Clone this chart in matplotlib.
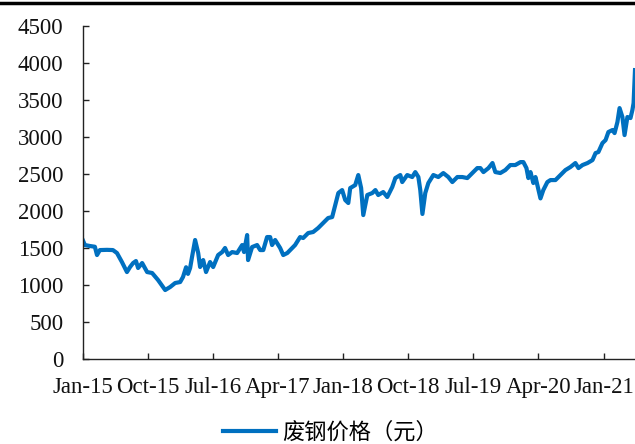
import matplotlib
matplotlib.use("Agg")
import matplotlib.pyplot as plt
import matplotlib.dates as mdates
from matplotlib.lines import Line2D
import pandas as pd

dates = [
    "2015-01-01", "2015-01-09", "2015-01-30", "2015-02-20", "2015-03-01", "2015-03-13",
    "2015-04-12", "2015-05-07", "2015-05-24", "2015-06-14", "2015-07-05", "2015-07-18",
    "2015-07-31", "2015-08-12", "2015-08-21", "2015-09-07", "2015-09-28", "2015-10-19",
    "2015-11-13", "2015-12-13", "2016-01-03", "2016-01-24", "2016-02-14", "2016-02-26",
    "2016-03-10", "2016-03-18", "2016-03-27", "2016-04-04", "2016-04-17", "2016-04-30",
    "2016-05-08", "2016-05-21", "2016-06-02", "2016-06-19", "2016-07-02", "2016-07-23",
    "2016-08-09", "2016-08-21", "2016-09-03", "2016-09-20", "2016-10-11", "2016-11-01",
    "2016-11-09", "2016-11-22", "2016-11-26", "2016-12-13", "2017-01-03", "2017-01-16",
    "2017-01-29", "2017-02-14", "2017-02-27", "2017-03-07", "2017-03-20", "2017-04-10",
    "2017-04-23", "2017-05-10", "2017-05-31", "2017-06-12", "2017-07-03", "2017-07-16",
    "2017-08-06", "2017-08-27", "2017-09-17", "2017-10-08", "2017-10-29", "2017-11-15",
    "2017-11-28", "2017-12-11", "2017-12-27", "2018-01-09", "2018-01-22", "2018-01-30",
    "2018-02-20", "2018-03-05", "2018-03-17", "2018-03-26", "2018-04-12", "2018-05-03",
    "2018-05-16", "2018-05-28", "2018-06-18", "2018-07-05", "2018-07-26", "2018-08-08",
    "2018-08-29", "2018-09-06", "2018-09-27", "2018-10-18", "2018-10-31", "2018-11-13",
    "2018-11-21", "2018-11-30", "2018-12-12", "2018-12-25", "2019-01-15", "2019-02-05",
    "2019-02-26", "2019-03-19", "2019-04-05", "2019-04-26", "2019-05-17", "2019-06-07",
    "2019-06-28", "2019-07-19", "2019-08-01", "2019-08-14", "2019-09-04", "2019-09-21",
    "2019-10-03", "2019-10-24", "2019-11-14", "2019-12-05", "2019-12-26", "2020-01-17",
    "2020-01-29", "2020-02-11", "2020-02-19", "2020-02-28", "2020-03-11", "2020-03-20",
    "2020-03-28", "2020-04-10", "2020-04-22", "2020-05-09", "2020-05-22", "2020-06-12",
    "2020-07-03", "2020-07-24", "2020-08-14", "2020-09-04", "2020-09-17", "2020-10-04",
    "2020-10-25", "2020-11-15", "2020-11-28", "2020-12-10", "2020-12-27", "2021-01-09",
    "2021-01-21", "2021-02-07", "2021-02-16", "2021-02-28", "2021-03-09", "2021-03-21",
    "2021-03-30", "2021-04-11", "2021-04-24", "2021-05-02", "2021-05-07", "2021-05-13",
]
prices = [
    1600, 1540, 1527, 1517, 1405, 1472,
    1475, 1472, 1432, 1310, 1175, 1243,
    1297, 1324, 1230, 1297, 1175, 1162,
    1067, 932, 973, 1027, 1040, 1108,
    1240, 1150, 1230, 1378, 1608, 1432,
    1243, 1337, 1175, 1310, 1243, 1405,
    1445, 1500, 1405, 1445, 1432, 1540,
    1445, 1675, 1337, 1513, 1540, 1472,
    1472, 1648, 1648, 1540, 1608, 1500,
    1405, 1432, 1500, 1540, 1648, 1635,
    1702, 1716, 1770, 1837, 1905, 1918,
    2080, 2243, 2283, 2148, 2108, 2310,
    2350, 2486, 2310, 1945, 2216, 2243,
    2283, 2216, 2256, 2189, 2324, 2445,
    2486, 2391, 2486, 2459, 2526, 2459,
    2283, 1960, 2243, 2378, 2486, 2459,
    2513, 2459, 2391, 2459, 2459, 2445,
    2513, 2580, 2580, 2526, 2580, 2648,
    2526, 2513, 2553, 2621, 2621, 2661,
    2661, 2580, 2445, 2526, 2378, 2459,
    2350, 2170, 2283, 2391, 2418, 2418,
    2486, 2553, 2594, 2648, 2580, 2621,
    2648, 2688, 2783, 2797, 2918, 2958,
    3067, 3094, 3053, 3202, 3391, 3270,
    3026, 3270, 3256, 3364, 3458, 3904,
]
tick_dates = ["2015-01-01", "2015-10-01", "2016-07-01", "2017-04-01", "2018-01-01",
              "2018-10-01", "2019-07-01", "2020-04-01", "2021-01-01"]
y_ticks = [0, 500, 1000, 1500, 2000, 2500, 3000, 3500, 4000, 4500]
series_name = "废钢价格（元）"

x = pd.to_datetime(dates)
xt = pd.to_datetime(tick_dates)

fig = plt.figure(figsize=(6.35, 4.44), dpi=100)
ax = fig.add_axes([83 / 635, 1 - 359 / 444, 1 - 83 / 635, (359 - 26) / 444])

ax.plot(x, prices, color="#0070C0", lw=3.0, solid_joinstyle="round", label=series_name)

ax.set_ylim(0, 4500)
ax.set_yticks(y_ticks)
ax.set_xlim(x[0], x[-1])
ax.set_xticks(xt)
ax.xaxis.set_major_formatter(mdates.DateFormatter("%b-%y"))

for s in ("top", "right"):
    ax.spines[s].set_visible(False)
for s in ("left", "bottom"):
    ax.spines[s].set_linewidth(1.0)
    ax.spines[s].set_color("#222222")

ax.tick_params(axis="both", direction="in", length=4.5, width=1.0, color="#222222")
ax.tick_params(axis="y", pad=14)
ax.tick_params(axis="x", pad=13)
for lab in ax.get_xticklabels() + ax.get_yticklabels():
    lab.set_fontfamily("Liberation Serif")
    lab.set_fontsize(16.5)
    lab.set_color("#111111")

leg = fig.legend(loc="center", bbox_to_anchor=(0.52, 0.027), frameon=False,
                 handlelength=2.4, handletextpad=0.25,
                 prop={"family": ["Noto Sans CJK SC", "DejaVu Sans"], "size": 16})

fig.add_artist(Line2D([0, 1], [1 - 3.5 / 444, 1 - 3.5 / 444], transform=fig.transFigure,
                      color="black", lw=2.5))

fig.savefig("out.png", dpi=100)
